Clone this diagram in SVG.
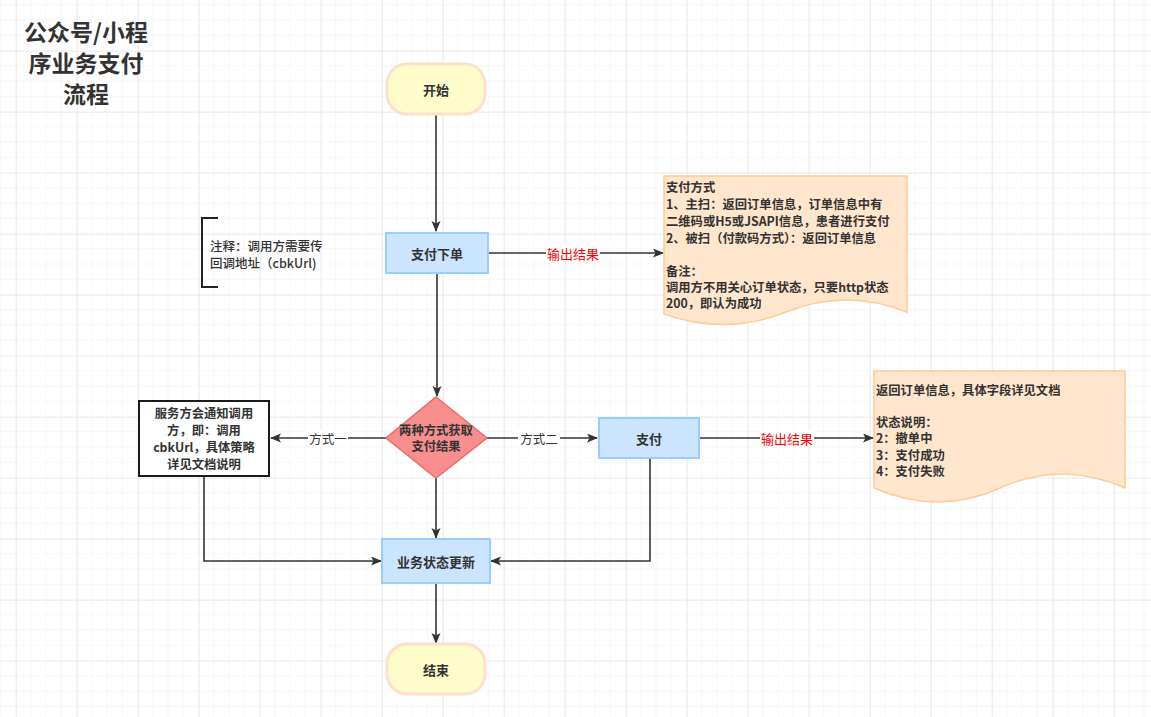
<svg xmlns="http://www.w3.org/2000/svg" width="1151" height="717" viewBox="0 0 1151 717">
<defs>
<pattern id="minor" x="0.75" y="5.25" width="15.25" height="15.25" patternUnits="userSpaceOnUse">
<path d="M15.25,0 V15.25 M0,15.25 H15.25" fill="none" stroke="#f0f0f0" stroke-width="1"/>
</pattern>
<pattern id="major" x="16" y="51" width="61" height="61" patternUnits="userSpaceOnUse">
<path d="M0,0 V61 M0,0 H61" fill="none" stroke="#e4e4e4" stroke-width="1.2"/>
</pattern>
<marker id="arr" markerWidth="12" markerHeight="10" refX="10" refY="4.5" orient="auto" markerUnits="userSpaceOnUse">
<path d="M0,0 L11,4.5 L0,9 L2.5,4.5 Z" fill="#333"/>
</marker>
<style>
text{font-family:"Noto Sans CJK SC","Microsoft YaHei",sans-serif;fill:#333;}
.ttl{font-size:23px;font-weight:bold;text-anchor:middle;dominant-baseline:central;}
.lbl{font-size:13px;font-weight:bold;text-anchor:middle;dominant-baseline:central;}
.sm{font-size:12.3px;}
.doc{font-size:12.3px;font-weight:bold;dominant-baseline:central;}
.note{font-size:12.5px;font-weight:500;dominant-baseline:central;}
.edge{fill:none;stroke:#333;stroke-width:1.6;}
.el{font-size:12.5px;text-anchor:middle;dominant-baseline:central;}
.red{fill:#ff0000;font-size:13px;}
.term{fill:#fffccc;stroke:#ffe0cc;stroke-width:3;}
.proc{fill:#cce5ff;stroke:#99ccff;stroke-width:2;}
.paper{fill:#ffe6cc;stroke:#ffcc99;stroke-width:1.5;}
</style>
</defs>
<rect width="1151" height="717" fill="#fff"/>
<rect width="1151" height="717" fill="url(#minor)"/>
<rect width="1151" height="717" fill="url(#major)"/>

<g id="title">
<text class="ttl" x="86" y="31">公众号/小程</text>
<text class="ttl" x="86" y="62">序业务支付</text>
<text class="ttl" x="86" y="93">流程</text>
</g>

<g id="connectors">
<path class="edge" d="M436,114 V231" marker-end="url(#arr)"/>
<path class="edge" d="M488,253 H663" marker-end="url(#arr)"/>
<rect x="546" y="245" width="54" height="17" fill="#fff"/>
<text class="el red" x="573" y="253">输出结果</text>
<path class="edge" d="M437,273 V396" marker-end="url(#arr)"/>
<path class="edge" d="M386,438 H271" marker-end="url(#arr)"/>
<rect x="308" y="430" width="40" height="17" fill="#fff"/>
<text class="el" x="328" y="438">方式一</text>
<path class="edge" d="M487,438 H597" marker-end="url(#arr)"/>
<rect x="518" y="430" width="42" height="17" fill="#fff"/>
<text class="el" x="539" y="438">方式二</text>
<path class="edge" d="M699,438 H873" marker-end="url(#arr)"/>
<rect x="760" y="430" width="54" height="17" fill="#fff"/>
<text class="el red" x="787" y="438">输出结果</text>
<path class="edge" d="M436,478 V538" marker-end="url(#arr)"/>
<path class="edge" d="M204,476 V561 H381" marker-end="url(#arr)"/>
<path class="edge" d="M650,458 V561 H491" marker-end="url(#arr)"/>
<path class="edge" d="M436,583 V643" marker-end="url(#arr)"/>
</g>

<g id="start">
<rect class="term" x="387" y="64" width="98" height="50" rx="20"/>
<text class="lbl" x="436" y="89">开始</text>
</g>

<g id="note">
<path d="M218,218 H202 V287 H218" fill="none" stroke="#222" stroke-width="2"/>
<text class="note" x="210" y="245">注释：调用方需要传</text>
<text class="note" x="210" y="262">回调地址（cbkUrl)</text>
</g>

<g id="order">
<rect class="proc" x="386" y="233" width="102" height="40"/>
<text class="lbl" x="437" y="253">支付下单</text>
</g>

<g id="doc1">
<path class="paper" d="M664,176 H907 V312 Q846,288 786,312 T664,314 Z"/>
<text class="doc" x="666" y="187">支付方式</text>
<text class="doc" x="666" y="204">1、主扫：返回订单信息，订单信息中有</text>
<text class="doc" x="666" y="221">二维码或H5或JSAPI信息，患者进行支付</text>
<text class="doc" x="666" y="238">2、被扫（付款码方式）：返回订单信息</text>
<text class="doc" x="666" y="271">备注：</text>
<text class="doc" x="666" y="287">调用方不用关心订单状态，只要http状态</text>
<text class="doc" x="666" y="303">200，即认为成功</text>
</g>

<g id="decision">
<path d="M436,397 L487,438 L436,478 L386,438 Z" fill="#f88e8e" stroke="#ea6b66" stroke-width="1.5"/>
<text class="lbl sm" x="436" y="430">两种方式获取</text>
<text class="lbl sm" x="436" y="446">支付结果</text>
</g>

<g id="notify">
<rect x="139" y="401" width="130" height="75" fill="#fff" stroke="#1a1a1a" stroke-width="2"/>
<text class="lbl sm" x="204" y="413">服务方会通知调用</text>
<text class="lbl sm" x="204" y="430">方，即：调用</text>
<text class="lbl sm" x="204" y="447">cbkUrl，具体策略</text>
<text class="lbl sm" x="204" y="464">详见文档说明</text>
</g>

<g id="pay">
<rect class="proc" x="599" y="418" width="100" height="40"/>
<text class="lbl" x="649" y="438">支付</text>
</g>

<g id="doc2">
<path class="paper" d="M874,371 H1125 V488 Q1062,460 1000,488 T874,488 Z"/>
<text class="doc" x="876" y="390">返回订单信息，具体字段详见文档</text>
<text class="doc" x="876" y="422">状态说明：</text>
<text class="doc" x="876" y="438">2：撤单中</text>
<text class="doc" x="876" y="455">3：支付成功</text>
<text class="doc" x="876" y="471">4：支付失败</text>
</g>

<g id="update">
<rect class="proc" x="382" y="539" width="108" height="44"/>
<text class="lbl" x="436" y="561">业务状态更新</text>
</g>

<g id="end">
<rect class="term" x="387" y="644" width="98" height="50" rx="20"/>
<text class="lbl" x="436" y="669">结束</text>
</g>
</svg>
